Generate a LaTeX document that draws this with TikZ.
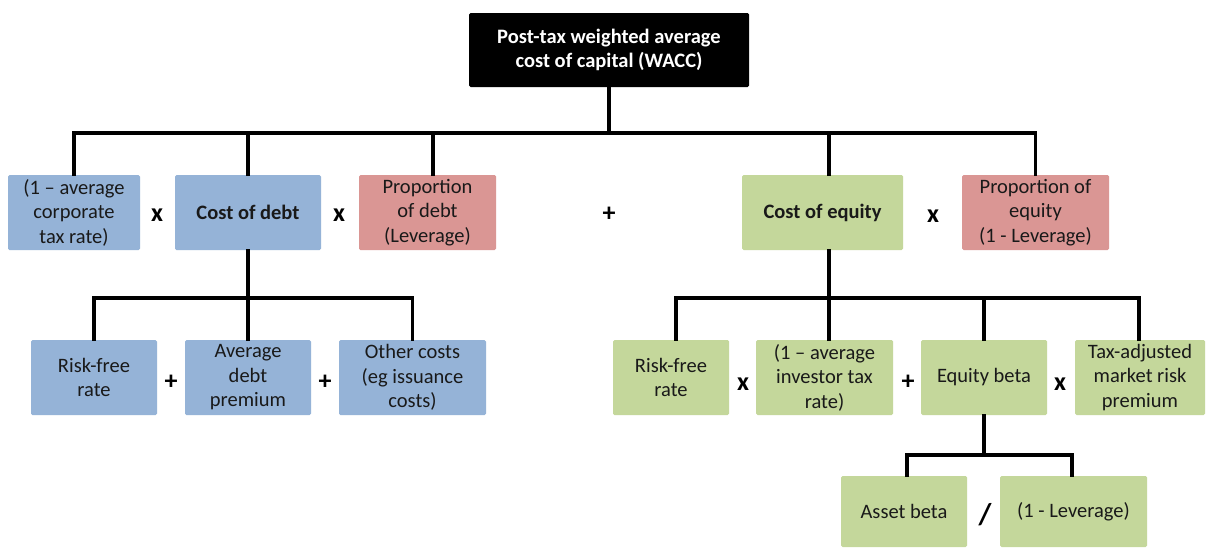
\documentclass[tikz,border=0pt]{standalone}
\usepackage{fontspec}
\setmainfont{Carlito}
\definecolor{dblue}{HTML}{95B3D7}
\definecolor{dred}{HTML}{DA9694}
\definecolor{dgreen}{HTML}{C4D79B}
\begin{document}
\begin{tikzpicture}[x=1pt,y=-1pt,
  box/.style={rounded corners=1.5pt,inner sep=0pt,align=center,
    font=\fontsize{20.5}{24.5}\selectfont,text=black!90},
  bluebox/.style={box,fill=dblue},
  redbox/.style={box,fill=dred},
  greenbox/.style={box,fill=dgreen},
  bb/.style={font=\fontsize{20.5}{24.5}\selectfont\bfseries},
  op/.style={font=\fontsize{26}{27}\selectfont\bfseries,inner sep=0pt},
  conn/.style={line width=3.2pt,line join=miter,line cap=rect}]
\useasboundingbox (0,0) rectangle (1206,547);
\fill[white] (0,0) rectangle (1206,547);
% top
\node[box,fill=black,text=white,bb,minimum width=280,minimum height=74] (top) at (609,50) {Post-tax weighted average\\cost of capital (WACC)};
% level 1
\node[bluebox,minimum width=132,minimum height=75] (A) at (74,212.5) {(1 -- average\\corporate\\tax rate)};
\node[bluebox,bb,minimum width=146,minimum height=75] (B) at (248,212.5) {Cost of debt};
\node[redbox,minimum width=137,minimum height=75] (C) at (427.5,212.5) {Proportion\\of debt\\(Leverage)};
\node[greenbox,bb,minimum width=161,minimum height=75] (D) at (822.5,212.5) {Cost of equity};
\node[redbox,minimum width=147,minimum height=75] (E) at (1035.5,212.5) {Proportion of\\equity\\(1 - Leverage)};
\node[op] (o1) at (157,215) {x};
\node[op] (o2) at (339,215) {x};
\node[op] (o3) at (609,214) {+};
\node[op] (o4) at (933,216) {x};
% level 2 debt
\node[bluebox,minimum width=126,minimum height=75] (F1) at (94,377.5) {Risk-free\\rate};
\node[bluebox,minimum width=126,minimum height=75] (F2) at (248,377.5) {Average\\debt\\premium};
\node[bluebox,minimum width=147,minimum height=75] (F3) at (412.5,377.5) {Other costs\\(eg issuance\\costs)};
\node[op] (o5) at (171,382) {+};
\node[op] (o6) at (325,382) {+};
% level 2 equity
\node[greenbox,minimum width=116,minimum height=75] (G1) at (671,377.5) {Risk-free\\rate};
\node[greenbox,minimum width=137,minimum height=75] (G2) at (824.5,377.5) {(1 -- average\\investor tax\\rate)};
\node[greenbox,minimum width=126,minimum height=75] (G3) at (984,377.5) {Equity beta};
\node[greenbox,minimum width=130,minimum height=75] (G4) at (1140,377.5) {Tax-adjusted\\market risk\\premium};
\node[op] (o7) at (743,384) {x};
\node[op] (o8) at (908,382) {+};
\node[op] (o9) at (1060,384) {x};
% level 3
\node[greenbox,minimum width=126,minimum height=71] (H1) at (904,511.5) {Asset beta};
\node[greenbox,minimum width=147,minimum height=71] (H2) at (1073.5,511.5) {(1 - Leverage)};
\node[op,font=\fontsize{30}{32}\selectfont\bfseries] (o10) at (985,515) {/};
% connectors
\coordinate (b1) at (609,133);
\coordinate (b2) at (248,298);
\coordinate (b3) at (829,298);
\coordinate (b4) at (984,455);
\draw[conn] (top.south) -- (b1);
\draw[conn] (A.north) -- (A.north |- b1) -- (E.north |- b1) -- (E.north);
\draw[conn] (B.north) -- (B.north |- b1);
\draw[conn] ([xshift=5.5pt]C.north) -- ([xshift=5.5pt]C.north |- b1);
\draw[conn] ([xshift=6.5pt]D.north) -- ([xshift=6.5pt]D.north |- b1);
\draw[conn] (B.south) -- (b2);
\draw[conn] (F1.north) -- (F1.north |- b2) -- (F3.north |- b2) -- (F3.north);
\draw[conn] (F2.north) -- (F2.north |- b2);
\draw[conn] ([xshift=6.5pt]D.south) -- (b3);
\draw[conn] ([xshift=5pt]G1.north) -- ([xshift=5pt]G1.north |- b3) -- ([xshift=-1pt]G4.north |- b3) -- ([xshift=-1pt]G4.north);
\draw[conn] ([xshift=4.5pt]G2.north) -- ([xshift=4.5pt]G2.north |- b3);
\draw[conn] (G3.north) -- (G3.north |- b3);
\draw[conn] (G3.south) -- (b4);
\draw[conn] ([xshift=3pt]H1.north) -- ([xshift=3pt]H1.north |- b4) -- ([xshift=-1.5pt]H2.north |- b4) -- ([xshift=-1.5pt]H2.north);
\end{tikzpicture}
\end{document}
